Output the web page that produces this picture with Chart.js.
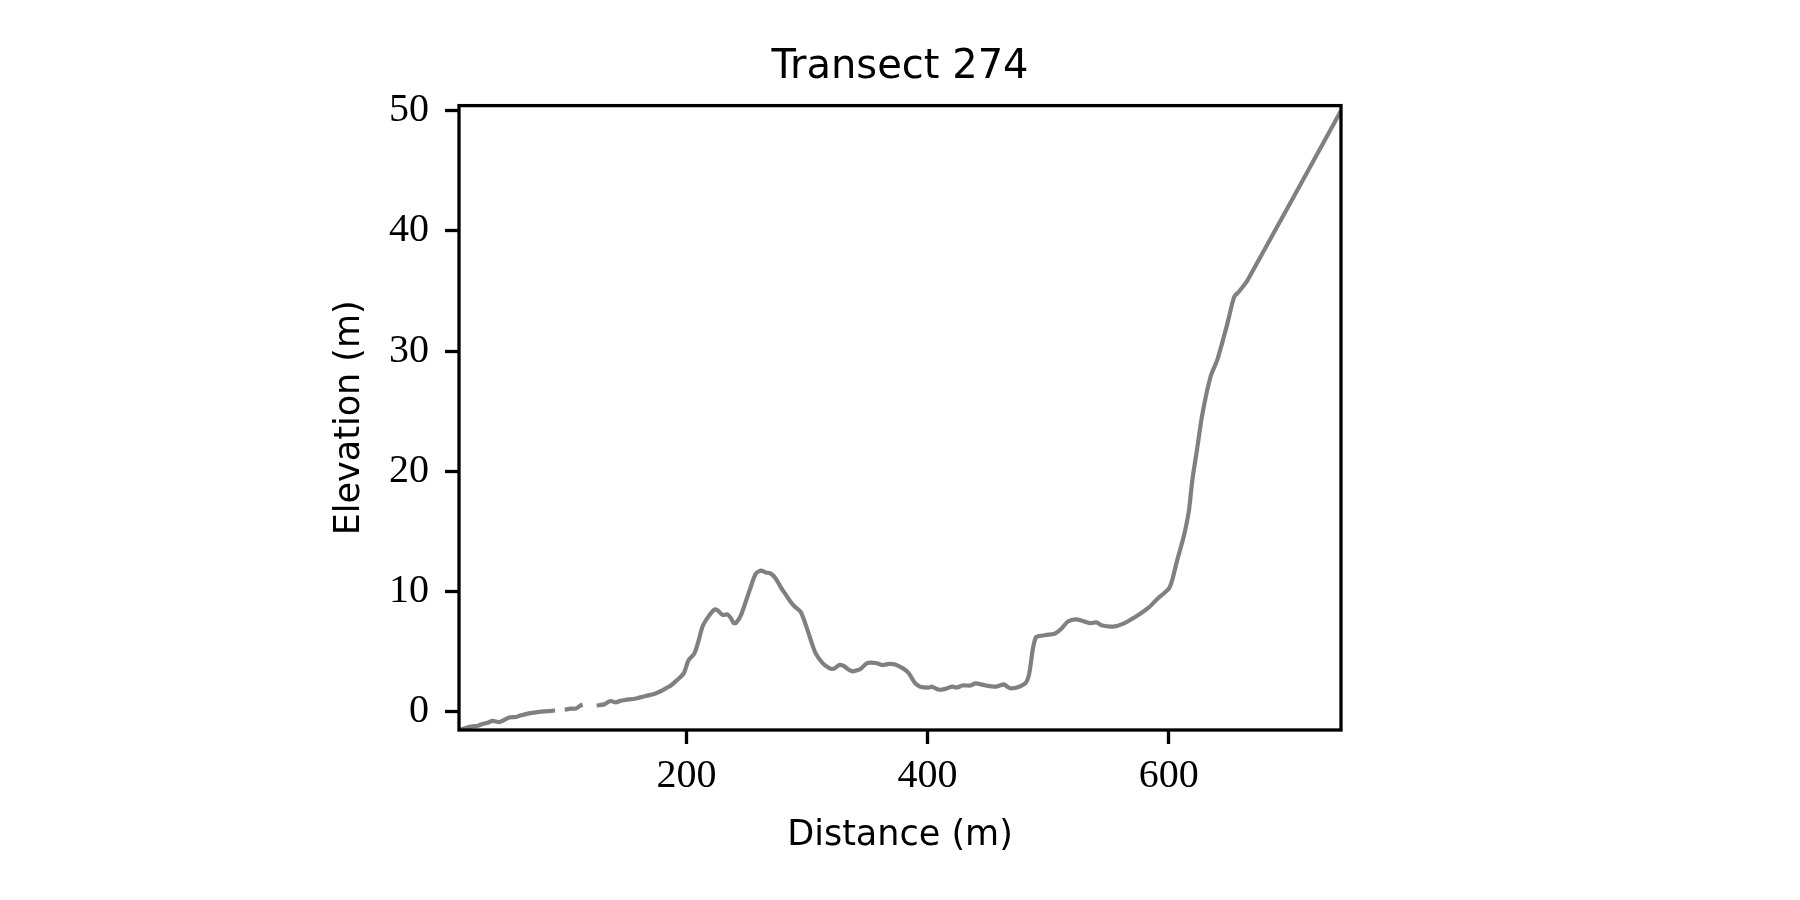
<!DOCTYPE html>
<html>
<head>
<meta charset="utf-8">
<script src="https://cdn.jsdelivr.net/npm/chart.js@4.4.1/dist/chart.umd.min.js"></script>
<style>
  html, body { margin: 0; padding: 0; background: #ffffff; }
  #wrap { width: 1800px; height: 900px; }
</style>
</head>
<body>
<div id="wrap"><canvas id="c" width="1800" height="900"></canvas></div>
<script>
// ---- Data (distance in m, elevation in m; null = gap) ----
const distance = [
  11.3, 16, 22.5, 27, 30.8, 35, 39.1, 44.6, 48, 52.9, 58.4, 62, 66.7, 72, 77.8, 83, 88.8, 91,
  95,
  99, 104, 108.2, 112.3, 113.9,
  119,
  125.5, 131.7, 134.5, 137.2, 141.4, 145, 149.7, 158, 166.3, 173.2, 178, 182.9, 187, 191.2, 195, 198,
  201.7, 206.4, 210, 213.3, 218, 223, 225.7, 229.9, 234, 236.8, 239, 241, 245, 250.6, 254, 257.5,
  261.7, 265.8, 270, 274, 278, 282.3, 286, 289.3, 294.8, 300.4, 304, 307.3, 312.8, 316, 319.7,
  322.5, 326.6, 330.8, 334, 337.7, 341, 344.6, 350.1, 357, 362.6, 368.1, 373, 379.9, 384.1, 387,
  389.7, 393.9, 400.8, 403.6, 409.2, 414.8, 420.3, 424.5, 428.7, 435.7, 439.8, 448.2, 456.5, 463.5,
  466, 469, 476, 481.6, 484.4, 487.2, 489.9, 494.2, 498.3, 505.3, 510.9, 516.4, 523.4, 534.5, 540.1,
  544.3, 554, 562.4, 573.5, 583.3, 590.3, 600, 602.8, 607, 612.5, 616.7, 619.5, 623.7, 627.9, 634.8,
  640.4, 648.7, 654.3, 658.5, 665.5, 743
];
const elevation = [
  -1.5, -1.35, -1.2, -1.15, -1.0, -0.9, -0.74, -0.84, -0.7, -0.46, -0.42, -0.3, -0.18, -0.08, 0.0, 0.05, 0.1, 0.12,
  null,
  0.18, 0.28, 0.28, 0.55, 0.6,
  null,
  0.53, 0.63, 0.8, 0.91, 0.8, 0.92, 1.0, 1.12, 1.33, 1.5, 1.7, 1.96, 2.2, 2.56, 2.9, 3.26,
  4.3, 4.84, 5.9, 7.1, 7.9, 8.5, 8.45, 8.07, 8.1, 7.8, 7.4, 7.4, 8.0, 9.6, 10.6, 11.5,
  11.75, 11.6, 11.5, 11.1, 10.4, 9.75, 9.2, 8.8, 8.3, 6.8, 5.7, 4.84, 4.07, 3.8, 3.6,
  3.6, 3.9, 3.8, 3.55, 3.37, 3.45, 3.6, 4.07, 4.07, 3.9, 4.0, 3.95, 3.6, 3.25, 2.8,
  2.38, 2.1, 2.03, 2.1, 1.85, 1.92, 2.1, 2.03, 2.2, 2.2, 2.38, 2.2, 2.1, 2.3,
  2.1, 1.96, 2.1, 2.45, 3.25, 5.17, 6.22, 6.33, 6.4, 6.5, 6.92, 7.52, 7.7, 7.38, 7.45,
  7.2, 7.1, 7.34, 7.97, 8.67, 9.37, 10.24, 10.94, 12.6, 14.6, 16.7, 19.2, 21.96, 24.76, 27.9,
  29.3, 32.3, 34.5, 34.97, 35.9, 50.0
];
const xTicks = [200, 400, 600];
const yTicks = [0, 10, 20, 30, 40, 50];
const chartTitle = 'Transect 274';
const xLabel = 'Distance (m)';
const yLabel = 'Elevation (m)';

const points = distance.map((d, i) => ({ x: d, y: elevation[i] }));

const framePlugin = {
  id: 'frame',
  afterLayout(chart) {
    // center the title over the plot area, as in the reference
    if (chart.titleBlock) {
      chart.titleBlock.left = chart.chartArea.left;
      chart.titleBlock.right = chart.chartArea.right;
    }
  },
  afterDraw(chart) {
    const { ctx, chartArea: a } = chart;
    ctx.save();
    ctx.strokeStyle = '#000';
    ctx.lineWidth = 3.3;
    ctx.strokeRect(a.left, a.top, a.right - a.left, a.bottom - a.top);
    ctx.restore();
  }
};

const tickFont = { family: '"Liberation Serif", "DejaVu Serif", serif', size: 40 };
const labelFont = { family: '"DejaVu Sans", sans-serif', size: 35 };

new Chart(document.getElementById('c'), {
  type: 'line',
  data: {
    datasets: [{
      data: points,
      borderColor: '#808080',
      borderWidth: 4.2,
      pointRadius: 0,
      tension: 0.25,
      spanGaps: false,
      fill: false
    }]
  },
  options: {
    responsive: false,
    animation: false,
    devicePixelRatio: 1,
    layout: { padding: { left: 0, right: 459, top: 0, bottom: 0 } },
    plugins: {
      legend: { display: false },
      tooltip: { enabled: false },
      title: {
        display: true,
        text: chartTitle,
        color: '#000',
        font: { family: '"DejaVu Sans", sans-serif', size: 40, weight: 'normal', lineHeight: 1.2 },
        padding: { top: 44, bottom: 13.6 }
      }
    },
    scales: {
      x: {
        type: 'linear',
        min: 11.3,
        max: 742.9,
        afterBuildTicks: s => { s.ticks = xTicks.map(v => ({ value: v })); },
        afterFit: s => { s.height = 170; },
        border: { display: false },
        grid: { drawOnChartArea: false, drawTicks: true, tickLength: 14, tickWidth: 3.3, tickColor: '#000' },
        ticks: { color: '#000', font: tickFont, padding: 8, maxRotation: 0, callback: v => String(v) },
        title: { display: true, text: xLabel, color: '#000', font: labelFont, padding: { top: 0, bottom: 43 } }
      },
      y: {
        type: 'linear',
        min: -1.5,
        max: 50.4,
        afterBuildTicks: s => { s.ticks = yTicks.map(v => ({ value: v })); },
        afterFit: s => { s.width = 459; },
        border: { display: false },
        grid: { drawOnChartArea: false, drawTicks: true, tickLength: 14, tickWidth: 3.3, tickColor: '#000' },
        ticks: { color: '#000', font: tickFont, padding: 16, callback: v => String(v) },
        title: { display: true, text: yLabel, color: '#000', font: labelFont, padding: { top: 329, bottom: 0 } }
      }
    }
  },
  plugins: [framePlugin]
});
</script>
</body>
</html>
